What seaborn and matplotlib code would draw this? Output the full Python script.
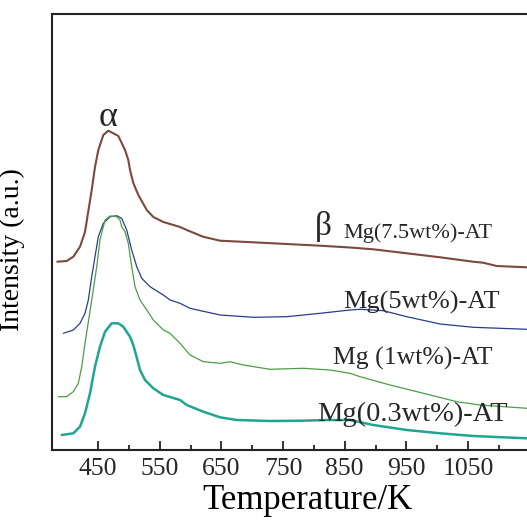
import numpy as np
import pandas as pd
import matplotlib
matplotlib.use("Agg")
import matplotlib.pyplot as plt
import matplotlib.transforms as mtransforms
import seaborn as sns

# ---- data ----
T_75 = [384.0, 399.2, 410.0, 420.8, 428.9, 434.3, 439.8, 445.1, 450.5, 458.6, 466.7, 474.8, 482.9,
        488.4, 493.8, 499.1, 501.9, 507.2, 515.4, 520.9, 529.0, 539.7, 555.9, 566.8, 583.0, 593.8,
        620.3, 647.8, 701.3, 756.0, 810.0, 858.6, 896.0, 950.6, 1004.6, 1058.1, 1074.3, 1096.5, 1145.2]
I_75 = [188.3, 189, 193.3, 203.3, 218, 239, 260, 283, 300, 315, 319.3, 316.7, 314,
        307, 300, 290, 280, 267, 255, 249, 240, 233, 228, 226, 223, 220,
        213.3, 209.3, 207.7, 206, 204.3, 202.5, 200.7, 196.7, 192.7, 188.3, 187.3, 184, 182.7]

T_5 = [393.7, 410.0, 420.8, 428.9, 434.3, 439.8, 445.1, 450.5, 458.6, 469.5, 480.3, 488.4, 496.5,
       504.6, 512.8, 520.9, 534.3, 555.9, 566.8, 583.0, 599.2, 647.8, 701.8, 756.0, 810.0, 858.6,
       874.9, 912.7, 950.6, 1004.6, 1058.6, 1145.2]
I_5 = [116.7, 120, 126.7, 136.7, 150, 173.3, 193.3, 213.3, 226.7, 233.3, 234.3, 231.7, 220,
       200, 183.3, 171.7, 163.3, 155, 150, 146.7, 141.7, 135, 132.7, 133.3, 136.7, 140,
       140.7, 139.3, 133.3, 126, 122.7, 120.7]

T_1 = [385.6, 399.2, 410.0, 418.1, 423.6, 428.9, 434.3, 439.8, 447.9, 453.2, 461.4, 469.5, 480.3,
       485.7, 488.4, 493.8, 499.1, 504.6, 510.0, 518.1, 529.0, 539.7, 555.9, 566.8, 583.0, 599.2,
       620.8, 647.8, 664.1, 685.6, 728.9, 782.9, 826.2, 858.6, 874.9, 923.5, 977.5, 1031.7, 1069.4, 1145.2]
I_1 = [53.3, 53.3, 58.3, 66.7, 83.3, 106.7, 128, 150, 183.3, 210, 230, 234, 233.3,
       230, 223.3, 218.3, 206.7, 183.3, 163.3, 150, 140, 130, 120, 116.7, 106.7, 95,
       88.3, 86.7, 88.3, 85, 80.7, 81.7, 80, 76.7, 73.3, 65, 56.7, 48.3, 45, 41.7]

T_03 = [391.1, 410.0, 420.8, 428.9, 437.0, 445.1, 453.2, 461.4, 472.2, 482.9, 491.0, 496.4, 501.9,
        507.2, 512.6, 518.1, 526.2, 539.7, 555.9, 583.0, 593.8, 620.8, 647.8, 674.9, 728.9, 782.9,
        820.7, 858.6, 896.4, 950.6, 1004.6, 1058.6, 1145.2]
I_03 = [15, 16.7, 23.3, 36.7, 56.7, 83.3, 103.3, 118.3, 126.7, 126.7, 123.3, 118.3, 113.3,
        105, 93, 80, 70, 61.7, 55, 50, 45, 38.3, 32.7, 30, 29, 29.3,
        30, 30, 25, 20, 16.7, 14, 11.7]

series_names = ["Mg(7.5wt%)-AT", "Mg(5wt%)-AT", "Mg (1wt%)-AT", "Mg(0.3wt%)-AT"]
series_T = [T_75, T_5, T_1, T_03]
series_I = [I_75, I_5, I_1, I_03]
colors = ["#7b4a3c", "#2a3d8c", "#4c9e48", "#1fa592"]
widths = [1.5, 0.9, 0.9, 1.8]

x_ticks = [450, 550, 650, 750, 850, 950, 1050]
x_minor = [500, 600, 700, 800, 900, 1000, 1100]

# ---- build long table ----
frames = []
for name, T, I in zip(series_names, series_T, series_I):
    frames.append(pd.DataFrame({"T": T, "I": I, "sample": name}))
df = pd.concat(frames, ignore_index=True)

sns.set_style("ticks")
plt.rcParams["font.family"] = ["Liberation Serif", "DejaVu Serif"]

fig = plt.figure(figsize=(5.27, 5.20), dpi=100)
ax = fig.add_axes([52 / 527, 70 / 520, 508 / 527, 436 / 520])

for name, c, lw in zip(series_names, colors, widths):
    sns.lineplot(data=df[df["sample"] == name], x="T", y="I", color=c,
                 linewidth=lw, ax=ax, legend=False, sort=False)

ax.set_xlim(375.4, 1199)
ax.set_ylim(0, 436)
ax.set_xticks(x_ticks)
ax.set_yticks([])
ax.tick_params(axis="x", which="both", bottom=True, top=False, direction="in",
               width=1.3, color="#222222")
ax.tick_params(axis="x", which="major", length=6.5, labelsize=18.5, pad=6)

for s in ["left", "bottom", "top"]:
    ax.spines[s].set_linewidth(1.5)
    ax.spines[s].set_color("#222222")
ax.spines["right"].set_visible(False)

ax.set_xlabel("Temperature/K", fontsize=25, color="black")
ax.xaxis.label.set_va("center")
ax.xaxis.set_label_coords(0.502, -0.115)
ax.set_ylabel("Intensity (a.u.)", fontsize=20, color="black")
ax.yaxis.set_label_coords(-0.053, 0.459)

ax.text(466, 333, "α", fontsize=26, ha="center", va="center")
ax.text(815, 224, "β", fontsize=24, ha="center", va="center")

ax.text(847, 217, "Mg(7.5wt%)-AT", fontsize=16, ha="left", va="center")
ax.text(847, 148, "Mg(5wt%)-AT", fontsize=19, ha="left", va="center")
ax.text(831, 92, "Mg (1wt%)-AT", fontsize=18.5, ha="left", va="center")
ax.text(805, 36, "Mg(0.3wt%)-AT", fontsize=20.5, ha="left", va="center")

# minor ticks as short inward marks
trans = mtransforms.blended_transform_factory(ax.transData, ax.transAxes)
for xm in x_minor:
    ax.plot([xm, xm], [0, 0.0125], color="#222222", lw=1.3, transform=trans,
            clip_on=False, solid_capstyle="butt")

# safety check: make sure major ticks are actually rendered
fig.canvas.draw()
buf = np.asarray(fig.canvas.buffer_rgba())
H = buf.shape[0]
px, py = ax.transData.transform((x_ticks[1], 0))
col = int(round(px))
rows = slice(int(H - py) - 7, int(H - py) - 3)
dark = (buf[rows, col - 1:col + 2, :3].mean(axis=2) < 120).any()
if not dark:
    for xm in x_ticks:
        ax.plot([xm, xm], [0, 0.02], color="#222222", lw=1.3, transform=trans,
                clip_on=False, solid_capstyle="butt")

fig.savefig("out.png", dpi=100)
